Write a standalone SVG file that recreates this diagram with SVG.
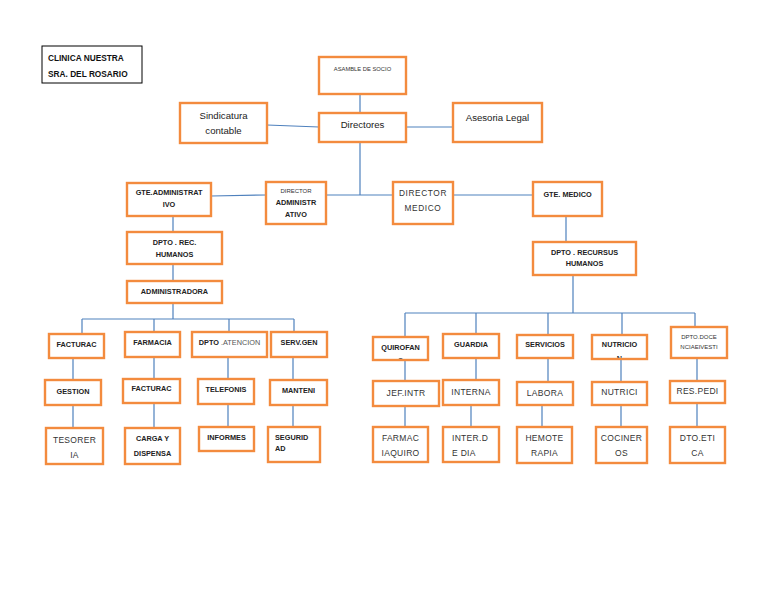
<svg xmlns="http://www.w3.org/2000/svg" width="768" height="594" viewBox="0 0 768 594">
<style>
.box{fill:#fff;stroke:#F38B3E;stroke-width:2.4}
.conn{stroke:#4F81BD;stroke-width:1.2;fill:none}
.b{font-family:"Liberation Sans",Arial,sans-serif;font-weight:bold;font-size:7.3px;fill:#222;text-anchor:middle}
.r{font-family:"Liberation Sans",Arial,sans-serif;font-size:8.5px;fill:#333;text-anchor:middle;letter-spacing:0.3px}
.m{font-family:"Liberation Sans",Arial,sans-serif;font-size:9.6px;fill:#222;text-anchor:middle}
.s{font-family:"Liberation Sans",Arial,sans-serif;font-size:6px;fill:#333;text-anchor:middle}
.l{text-anchor:start}
</style>
<defs>
<clipPath id="c1"><rect x="50" y="335" width="53" height="21.8"/></clipPath>
<clipPath id="c2"><rect x="193" y="333" width="73" height="22.8"/></clipPath>
<clipPath id="c3"><rect x="272" y="333" width="54" height="22.8"/></clipPath>
<clipPath id="c4"><rect x="46" y="381" width="54" height="22.8"/></clipPath>
<clipPath id="c5"><rect x="124" y="380" width="55" height="21.8"/></clipPath>
<clipPath id="c6"><rect x="199" y="380" width="54" height="22.8"/></clipPath>
<clipPath id="c7"><rect x="271" y="381" width="55" height="22.8"/></clipPath>
<clipPath id="c8"><rect x="374" y="338" width="53" height="20.8"/></clipPath>
<clipPath id="c9"><rect x="444" y="335" width="54" height="21.8"/></clipPath>
<clipPath id="c10"><rect x="518" y="336" width="54" height="20.8"/></clipPath>
<clipPath id="c11"><rect x="593" y="336" width="53" height="21.8"/></clipPath>
</defs>
<rect width="768" height="594" fill="#fff"/>

<g id="connectors">
<path class="conn" d="M360 94V113 M267 125L319 127 M406 127H453 M360 142V195 M326 195H393 M211 196L266 195 M453 195H533"/>
<path class="conn" d="M173 216V232 M173 264V281 M173 303V319 M82 319H294 M82 319V334 M154 319V332 M229 319V332 M294 319V332"/>
<path class="conn" d="M73 358V380 M73 405V428 M154 357V379 M154 403V428 M228 357V379 M228 404V427 M293 357V380 M293 405V427"/>
<path class="conn" d="M566 216V242 M573 275V313 M405 313H695 M405 313V337 M476 313V334 M548 313V335 M622 313V335 M695 313V327"/>
<path class="conn" d="M405 360V381 M405 406V427 M476 358V380 M471 405V427 M548 358V382 M542 405V427 M621 359V382 M621 405V427 M697 358V381 M697 403V427"/>
</g>

<g id="title">
<rect x="42" y="46" width="100" height="37" fill="#fff" stroke="#000" stroke-width="1"/>
<text x="48" y="61" style="font-family:'Liberation Sans',Arial,sans-serif;font-weight:bold;font-size:8.3px;fill:#111">CLINICA NUESTRA</text>
<text x="48" y="77" style="font-family:'Liberation Sans',Arial,sans-serif;font-weight:bold;font-size:8.3px;fill:#111">SRA. DEL ROSARIO</text>
</g>

<g id="asamble"><rect class="box" x="319" y="57" width="87" height="37"/><text class="s" x="362.5" y="71" style="font-size:5.8px">ASAMBLE DE SOCIO</text></g>
<g id="sindicatura"><rect class="box" x="180" y="103" width="87" height="40"/><text class="m" x="223.5" y="118.5">Sindicatura</text><text class="m" x="223.5" y="133.5">contable</text></g>
<g id="directores"><rect class="box" x="319" y="113" width="87" height="29"/><text class="m" x="362.5" y="127.5">Directores</text></g>
<g id="asesoria"><rect class="box" x="453" y="103" width="89" height="39"/><text class="m" x="497.5" y="120.5">Asesoria Legal</text></g>

<g id="gte-admin"><rect class="box" x="127" y="183" width="84" height="33"/><text class="b" x="169" y="194.7">GTE.ADMINISTRAT</text><text class="b" x="169" y="206.7">IVO</text></g>
<g id="dir-admin"><rect class="box" x="266" y="182" width="60" height="42"/><text class="s" x="296" y="193">DIRECTOR</text><text class="b" x="296" y="204.7">ADMINISTR</text><text class="b" x="296" y="216.7">ATIVO</text></g>
<g id="dir-medico"><rect class="box" x="393" y="182" width="60" height="42"/><text class="r" x="423" y="196" style="font-size:8.3px;letter-spacing:0.6px">DIRECTOR</text><text class="r" x="423" y="211" style="font-size:8.3px;letter-spacing:0.6px">MEDICO</text></g>
<g id="gte-medico"><rect class="box" x="533" y="182" width="69" height="34"/><text class="b" x="567.5" y="196.7">GTE. MEDICO</text></g>

<g id="dpto-rec"><rect class="box" x="127" y="232" width="95" height="32"/><text class="b" x="174.5" y="244.7">DPTO . REC.</text><text class="b" x="174.5" y="256.7">HUMANOS</text></g>
<g id="administradora"><rect class="box" x="127" y="281" width="95" height="22"/><text class="b" x="174.5" y="293.7">ADMINISTRADORA</text></g>
<g id="dpto-recursus"><rect class="box" x="533" y="242" width="103" height="33"/><text class="b" x="584.5" y="254.7">DPTO . RECURSUS</text><text class="b" x="584.5" y="265.7">HUMANOS</text></g>

<g id="facturacion1"><rect class="box" x="49" y="334" width="55" height="24"/><text class="b" x="76.5" y="346.7">FACTURAC</text><text class="b" x="76.5" y="361.5" clip-path="url(#c1)">ION</text></g>
<g id="farmacia"><rect class="box" x="125" y="332" width="55" height="25"/><text class="b" x="152.5" y="344.7">FARMACIA</text></g>
<g id="dpto-atencion"><rect class="box" x="192" y="332" width="75" height="25"/><text class="b" x="229.5" y="344.7">DPTO<tspan style="font-weight:normal;fill:#555"> .ATENCION</tspan></text><text class="s" x="229.5" y="359.5" clip-path="url(#c2)">AL CLIENTE</text></g>
<g id="serv-gen"><rect class="box" x="271" y="332" width="56" height="25"/><text class="b" x="299" y="360.5" clip-path="url(#c3)">ERALES</text><text class="b" x="299" y="344.7">SERV.GEN</text></g>

<g id="gestion"><rect class="box" x="45" y="380" width="56" height="25"/><text class="b" x="73" y="393.7">GESTION</text><text class="b" x="73" y="408.5" clip-path="url(#c4)">DE COBRANZ</text></g>
<g id="facturacion2"><rect class="box" x="123" y="379" width="57" height="24"/><text class="b" x="151.5" y="390.7">FACTURAC</text><text class="b" x="151.5" y="406.5" clip-path="url(#c5)">ION</text></g>
<g id="telefonistas"><rect class="box" x="198" y="379" width="56" height="25"/><text class="b" x="226" y="391.7">TELEFONIS</text><text class="b" x="226" y="407.5" clip-path="url(#c6)">TAS</text></g>
<g id="mantenimiento"><rect class="box" x="270" y="380" width="57" height="25"/><text class="b" x="298.5" y="392.7">MANTENI</text><text class="b" x="298.5" y="408.5" clip-path="url(#c7)">MIENTO</text></g>

<g id="tesoreria"><rect class="box" x="46" y="428" width="57" height="36"/><text class="r" x="74.5" y="443">TESORER</text><text class="r" x="74.5" y="458">IA</text></g>
<g id="carga"><rect class="box" x="125" y="428" width="55" height="36"/><text class="b" x="152.5" y="440.7">CARGA Y</text><text class="b" x="152.5" y="455.7">DISPENSA</text></g>
<g id="informes"><rect class="box" x="199" y="427" width="55" height="24"/><text class="b" x="226.5" y="439.7">INFORMES</text></g>
<g id="seguridad"><rect class="box" x="268" y="427" width="52" height="35"/><text class="b l" x="275" y="439.7">SEGURID</text><text class="b l" x="275" y="450.7">AD</text></g>

<g id="quirofano"><rect class="box" x="373" y="337" width="55" height="23"/><text class="b" x="400.5" y="349.7">QUIROFAN</text><text class="b" x="400.5" y="362.5" clip-path="url(#c8)">O</text></g>
<g id="guardia"><rect class="box" x="443" y="334" width="56" height="24"/><text class="b" x="471" y="346.7">GUARDIA</text><text class="b" x="471" y="361.5" clip-path="url(#c9)">EXTERNA</text></g>
<g id="servicios"><rect class="box" x="517" y="335" width="56" height="23"/><text class="b" x="545" y="346.7">SERVICIOS</text><text class="b" x="545" y="361.5" clip-path="url(#c10)">AUXILIARES</text></g>
<g id="nutricion"><rect class="box" x="592" y="335" width="55" height="24"/><text class="b" x="619.5" y="346.7">NUTRICIO</text><text class="b" x="619.5" y="361" clip-path="url(#c11)">N</text></g>
<g id="docencia"><rect class="box" x="671" y="327" width="56" height="31"/><text class="s" x="699" y="339">DPTO.DOCE</text><text class="s" x="699" y="349">NCIAEIVESTI</text></g>

<g id="jef-intr"><rect class="box" x="373" y="381" width="66" height="25"/><text class="r" x="406" y="396">JEF.INTR</text></g>
<g id="interna"><rect class="box" x="443" y="380" width="56" height="25"/><text class="r" x="471" y="395">INTERNA</text></g>
<g id="labora"><rect class="box" x="517" y="382" width="56" height="23"/><text class="r" x="545" y="396">LABORA</text></g>
<g id="nutrici"><rect class="box" x="592" y="382" width="55" height="23"/><text class="r" x="619.5" y="395">NUTRICI</text></g>
<g id="res-pedi"><rect class="box" x="670" y="381" width="55" height="22"/><text class="r" x="697.5" y="394">RES.PEDI</text></g>

<g id="farmacia-quiro"><rect class="box" x="373" y="427" width="55" height="35"/><text class="r" x="400.5" y="441">FARMAC</text><text class="r" x="400.5" y="456">IAQUIRO</text></g>
<g id="inter-dia"><rect class="box" x="443" y="427" width="56" height="35"/><text class="r l" x="452" y="441">INTER.D</text><text class="r l" x="452" y="456">E DIA</text></g>
<g id="hemoterapia"><rect class="box" x="517" y="427" width="55" height="36"/><text class="r" x="544.5" y="441">HEMOTE</text><text class="r" x="544.5" y="456">RAPIA</text></g>
<g id="cocineros"><rect class="box" x="596" y="427" width="51" height="36"/><text class="r" x="621.5" y="441">COCINER</text><text class="r" x="621.5" y="456">OS</text></g>
<g id="dto-etica"><rect class="box" x="670" y="427" width="55" height="36"/><text class="r" x="697.5" y="441">DTO.ETI</text><text class="r" x="697.5" y="456">CA</text></g>
</svg>
